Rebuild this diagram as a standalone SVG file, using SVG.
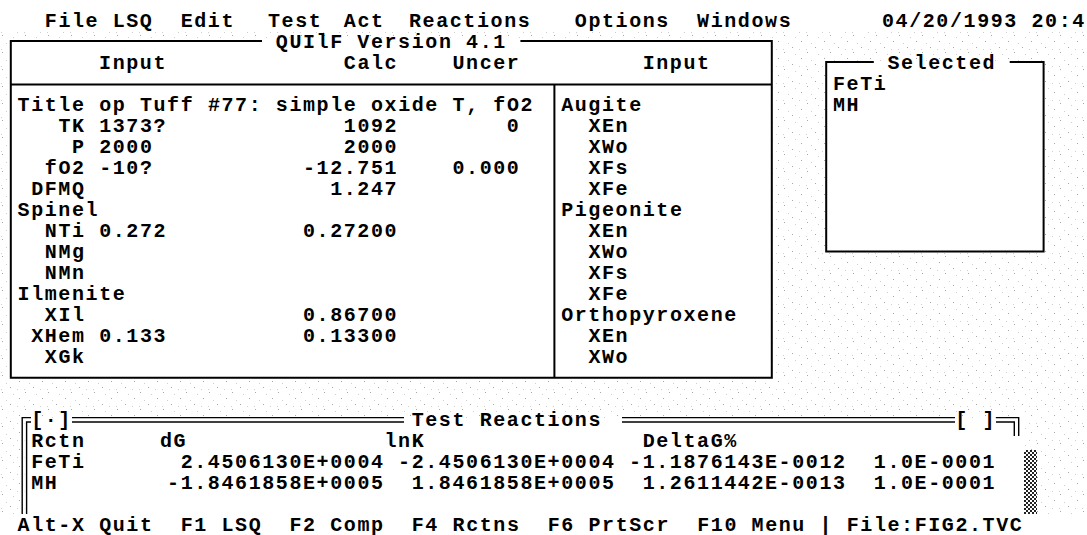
<svg xmlns="http://www.w3.org/2000/svg" width="1087" height="535" viewBox="0 0 1087 535">
<style>
text{font-family:"Liberation Mono","DejaVu Sans Mono",monospace;font-weight:bold;font-size:20px;letter-spacing:1.59px;fill:#000}
.ln{stroke:#000;stroke-width:2;fill:none}
.dl{stroke:#000;stroke-width:1.4;fill:none}
.win{fill:#fff}
.d1{fill:#a8a8a8}
.d2{fill:#cfcfcf}
</style>
<defs>
<pattern id="desk" width="23" height="17" patternUnits="userSpaceOnUse">
<rect width="23" height="17" fill="#fff"/>
<rect class="d1" x="2" y="1" width="1" height="1"/>
<rect class="d2" x="13" y="3" width="1" height="1"/>
<rect class="d1" x="19" y="7" width="1" height="1"/>
<rect class="d2" x="6" y="9" width="1" height="1"/>
<rect class="d1" x="10" y="13" width="1" height="1"/>
<rect class="d2" x="17" y="15" width="1" height="1"/>
<rect class="d2" x="1" y="15" width="1" height="1"/>
</pattern>
<pattern id="sb" width="4" height="4" patternUnits="userSpaceOnUse">
<rect width="4" height="4" fill="#fff"/>
<rect x="0" y="0" width="2" height="2" fill="#222"/>
<rect x="2" y="2" width="2" height="2" fill="#222"/>
</pattern>
</defs>
<rect width="1087" height="535" fill="#fff"/>
<rect x="0" y="31" width="1087" height="483" fill="url(#desk)"/>

<g id="menubar">
<text x="44.8" y="26.5">File</text>
<text x="112.7" y="26.5">LSQ</text>
<text x="180.7" y="26.5">Edit</text>
<text x="268" y="26.5">Test</text>
<text x="343.8" y="26.5">Act</text>
<text x="409" y="26.5">Reactions</text>
<text x="574.8" y="26.5">Options</text>
<text x="697.1" y="26.5">Windows</text>
<text x="882" y="26.5">04/20/1993 20:4</text>
</g>

<g id="main-window">
<rect class="win" x="10.8" y="41" width="761" height="336.7"/>
<path class="ln" d="M262 41H10.8V377.7H771.8V41H520.4"/>
<path class="ln" d="M10.8 84.5H771.8M554.4 84.5V377.7"/>
<text x="275.8" y="47.5">QUIlF Version 4.1</text>
<text x="99.1" y="68.6">Input</text>
<text x="343.8" y="68.6">Calc</text>
<text x="452.5" y="68.6">Uncer</text>
<text x="642.7" y="68.6">Input</text>

<text x="17.6" y="110.7">Title op Tuff #77: simple oxide T, fO2</text>
<text x="58.4" y="131.7">TK 1373?</text>
<text x="72" y="152.7">P 2000</text>
<text x="44.8" y="173.8">fO2 -10?</text>
<text x="31.2" y="194.8">DFMQ</text>
<text x="17.6" y="215.9">Spinel</text>
<text x="44.8" y="236.9">NTi 0.272</text>
<text x="44.8" y="257.9">NMg</text>
<text x="44.8" y="279">NMn</text>
<text x="17.6" y="300">Ilmenite</text>
<text x="44.8" y="321.1">XIl</text>
<text x="31.2" y="342.1">XHem 0.133</text>
<text x="44.8" y="363.1">XGk</text>

<text x="343.8" y="131.7">1092</text>
<text x="343.8" y="152.7">2000</text>
<text x="303" y="173.8">-12.751</text>
<text x="330.2" y="194.8">1.247</text>
<text x="303" y="236.9">0.27200</text>
<text x="303" y="321.1">0.86700</text>
<text x="303" y="342.1">0.13300</text>
<text x="506.8" y="131.7">0</text>
<text x="452.5" y="173.8">0.000</text>

<text x="561.2" y="110.7">Augite</text>
<text x="588.4" y="131.7">XEn</text>
<text x="588.4" y="152.7">XWo</text>
<text x="588.4" y="173.8">XFs</text>
<text x="588.4" y="194.8">XFe</text>
<text x="561.2" y="215.9">Pigeonite</text>
<text x="588.4" y="236.9">XEn</text>
<text x="588.4" y="257.9">XWo</text>
<text x="588.4" y="279">XFs</text>
<text x="588.4" y="300">XFe</text>
<text x="561.2" y="321.1">Orthopyroxene</text>
<text x="588.4" y="342.1">XEn</text>
<text x="588.4" y="363.1">XWo</text>
</g>

<g id="selected-window">
<rect class="win" x="826.2" y="62.1" width="217.4" height="189.3"/>
<path class="ln" d="M873.8 62.1H826.2V251.4H1043.6V62.1H1009.7"/>
<text x="887.4" y="68.6">Selected</text>
<text x="833" y="89.6">FeTi</text>
<text x="833" y="110.7">MH</text>
</g>

<g id="reactions-window">
<rect class="win" x="24.4" y="419.8" width="999" height="94.2"/>
<path class="dl" d="M31 417.6H22.2V514M31 422H26.6V514"/>
<path class="dl" d="M72 417.6H404M72 422H404M622 417.6H955M622 422H955"/>
<path class="dl" d="M996 417.6H1018.7V436M996 422H1014.3V436"/>
<text x="31.2" y="426.3">[·]</text>
<text x="411.7" y="426.3">Test Reactions</text>
<text x="955.3" y="426.3" xml:space="preserve">[ ]</text>
<rect x="1024" y="450" width="13" height="64" fill="url(#sb)"/>

<text x="31.2" y="447.3">Rctn</text>
<text x="160" y="447.3">dG</text>
<text x="384.5" y="447.3">lnK</text>
<text x="642.7" y="447.3">DeltaG%</text>

<text x="31.2" y="468.3">FeTi</text>
<text x="180.7" y="468.3">2.4506130E+0004</text>
<text x="398.1" y="468.3">-2.4506130E+0004</text>
<text x="629.1" y="468.3">-1.1876143E-0012</text>
<text x="873.8" y="468.3">1.0E-0001</text>

<text x="31.2" y="489.4">MH</text>
<text x="167.1" y="489.4">-1.8461858E+0005</text>
<text x="411.7" y="489.4">1.8461858E+0005</text>
<text x="642.7" y="489.4">1.2611442E-0013</text>
<text x="873.8" y="489.4">1.0E-0001</text>
</g>

<g id="statusbar">
<rect class="win" x="0" y="514" width="1087" height="21"/>
<text x="17.6" y="531" xml:space="preserve">Alt-X Quit  F1 LSQ  F2 Comp  F4 Rctns  F6 PrtScr  F10 Menu | File:FIG2.TVC</text>
</g>
</svg>
